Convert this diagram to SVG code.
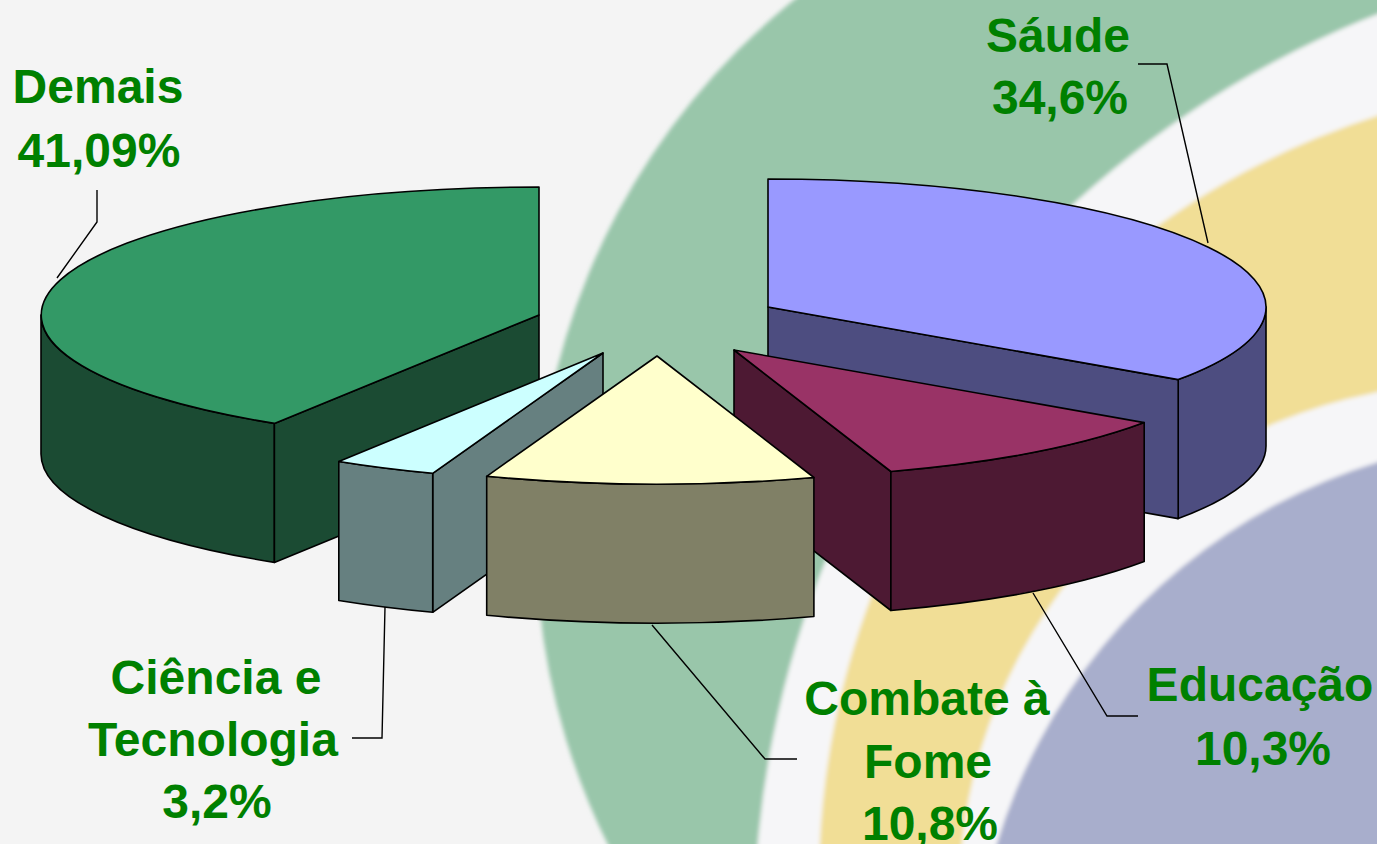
<svg xmlns="http://www.w3.org/2000/svg" width="1377" height="844" viewBox="0 0 1377 844">
<style>
.lbl{font-family:"Liberation Sans",Arial,sans-serif;font-weight:bold;font-size:48px;fill:#008000;text-anchor:middle}
.pie path{stroke:#000;stroke-width:1.6;stroke-linejoin:round}
.lead{fill:none;stroke:#000;stroke-width:1.4}
</style>
<defs>
<filter id="soft" x="-20%" y="-20%" width="140%" height="140%"><feGaussianBlur stdDeviation="2"/></filter>
</defs>
<rect x="0" y="0" width="1377" height="844" fill="#f4f4f4"/>
<g id="background" filter="url(#soft)">
<circle cx="1226" cy="538" r="690" fill="#99c6aa"/>
<circle cx="1737" cy="929" r="983" fill="#f6f6f8"/>
<circle cx="1624" cy="882" r="805" fill="#f1de96"/>
<circle cx="1474" cy="898" r="515" fill="#f6f6f8"/>
<circle cx="1546" cy="1011" r="574" fill="#a8aecc"/>
</g>
<g id="connectors" class="lead">
<path class="lead" d="M97,190 L97,222 L57,278"/>
<path class="lead" d="M1138,64 L1167,64 L1208,243"/>
<path class="lead" d="M1033,593 L1107,716 L1138,716"/>
<path class="lead" d="M652,625 L765,759 L797,759"/>
<path class="lead" d="M385,607 L382,738 L352,738"/>
</g>
<g id="demais" class="pie">
<path d="M41,315 A498,128 0 0 0 274.4,423.4 L274.4,562.4 A498,128 0 0 1 41,454 Z" fill="#1b4b33"/>
<path d="M539,315 L274.4,423.4 L274.4,562.4 L539,454 Z" fill="#1b4b33"/>
<path d="M539,315 L539,187 A498,128 0 0 0 274.4,423.4 Z" fill="#339966"/>
<text class="lbl" x="98" y="103">Demais</text>
<text class="lbl" x="99" y="167">41,09%</text>
</g>
<g id="saude" class="pie">
<path d="M1178.2,379.6 A498,128 0 0 0 1266,307 L1266,446 A498,128 0 0 1 1178.2,518.6 Z" fill="#4d4d80"/>
<path d="M768,307 L1178.2,379.6 L1178.2,518.6 L768,446 Z" fill="#4d4d80"/>
<path d="M768,307 L768,179 A498,128 0 0 1 1178.2,379.6 Z" fill="#9999ff"/>
<text class="lbl" x="1058" y="52">Sáude</text>
<text class="lbl" x="1060" y="114">34,6%</text>
</g>
<g id="educacao" class="pie">
<path d="M734,350 L890.9,471.5 L890.9,610.5 L734,489 Z" fill="#4d1933"/>
<path d="M890.9,471.5 A498,128 0 0 0 1144.2,422.6 L1144.2,561.6 A498,128 0 0 1 890.9,610.5 Z" fill="#4d1933"/>
<path d="M734,350 L890.9,471.5 A498,128 0 0 0 1144.2,422.6 Z" fill="#993366"/>
<text class="lbl" x="1260" y="701">Educação</text>
<text class="lbl" x="1263" y="765">10,3%</text>
</g>
<g id="ciencia" class="pie">
<path d="M603,353 L432.7,473.3 L432.7,612.3 L603,492 Z" fill="#668080"/>
<path d="M338.8,461.5 A498,128 0 0 0 432.7,473.3 L432.7,612.3 A498,128 0 0 1 338.8,600.5 Z" fill="#668080"/>
<path d="M603,353 L338.8,461.5 A498,128 0 0 0 432.7,473.3 Z" fill="#ccffff"/>
<text class="lbl" x="216" y="694">Ciência e</text>
<text class="lbl" x="213" y="756">Tecnologia</text>
<text class="lbl" x="217" y="818">3,2%</text>
</g>
<g id="combate" class="pie">
<path d="M486.7,476.3 A498,128 0 0 0 813.9,477.5 L813.9,616.5 A498,128 0 0 1 486.7,615.3 Z" fill="#808066"/>
<path d="M657,356 L486.7,476.3 A498,128 0 0 0 813.9,477.5 Z" fill="#ffffcc"/>
<text class="lbl" x="927" y="715">Combate à</text>
<text class="lbl" x="928" y="778">Fome</text>
<text class="lbl" x="930" y="840">10,8%</text>
</g>
</svg>
